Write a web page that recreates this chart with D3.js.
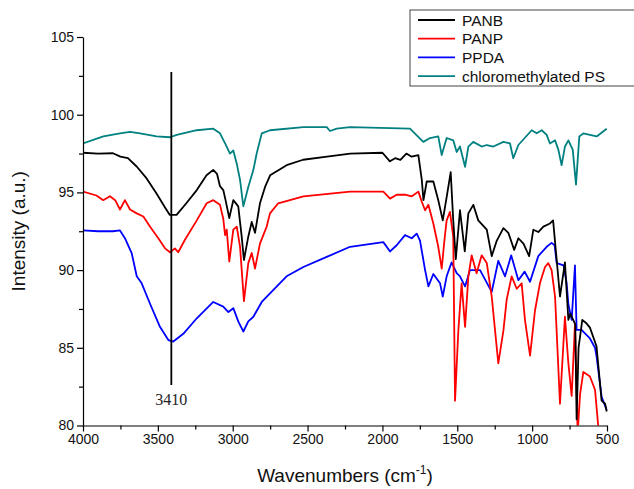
<!DOCTYPE html>
<html>
<head>
<meta charset="utf-8">
<script src="https://cdn.jsdelivr.net/npm/d3@7"></script>
<style>
  body { margin: 0; background: #fff; }
  svg { display: block; font-family: "Liberation Sans", Arial, sans-serif; }
</style>
</head>
<body>
<svg id="chart" width="634" height="489"></svg>
<script>
// series names, colours in legend order
const seriesNames = ["PANB", "PANP", "PPDA", "chloromethylated PS"];

// wavenumber / intensity pairs
const panbWn = [4000, 3900, 3800, 3750, 3700, 3640, 3575, 3510, 3450, 3420, 3375, 3310, 3240, 3175, 3130, 3105, 3085, 3063, 3050, 3023, 2996, 2963, 2940, 2925, 2896, 2873, 2851, 2818, 2784, 2750, 2640, 2530, 2370, 2215, 2000, 1950, 1915, 1880, 1840, 1805, 1760, 1737, 1726, 1704, 1660, 1627, 1597, 1571, 1544, 1527, 1510, 1482, 1450, 1426, 1393, 1360, 1303, 1270, 1236, 1192, 1159, 1120, 1092, 1058, 1020, 992, 959, 925, 881, 860, 814, 781, 758, 745, 712, 703, 690, 665, 640, 614, 570, 536, 513, 502];
const panbVal = [97.55, 97.5, 97.52, 97.3, 97.2, 96.65, 95.9, 94.95, 94.0, 93.55, 93.55, 94.3, 95.15, 96.1, 96.45, 96.2, 95.4, 95.15, 94.6, 93.35, 94.5, 94.1, 92.15, 90.65, 92.15, 93.1, 92.4, 94.3, 95.35, 96.1, 96.75, 97.1, 97.3, 97.5, 97.55, 97.0, 97.2, 97.1, 97.5, 97.3, 97.4, 95.8, 94.5, 95.7, 95.7, 94.5, 93.2, 94.7, 96.3, 93.2, 90.7, 93.85, 91.2, 93.65, 94.2, 93.2, 92.6, 90.9, 91.9, 92.7, 92.4, 91.3, 92.05, 91.7, 90.9, 92.6, 92.45, 92.8, 93.0, 93.2, 88.3, 90.5, 86.8, 87.2, 86.5, 80.4, 85.0, 86.8, 86.6, 86.3, 85.1, 81.6, 81.4, 80.9];

const panpWn = [4000, 3910, 3865, 3820, 3785, 3753, 3720, 3686, 3641, 3597, 3553, 3497, 3452, 3419, 3386, 3364, 3319, 3240, 3174, 3130, 3085, 3063, 3051, 3040, 3023, 2996, 2973, 2951, 2925, 2896, 2873, 2851, 2818, 2773, 2751, 2696, 2528, 2216, 1994, 1949, 1905, 1849, 1804, 1760, 1737, 1715, 1693, 1660, 1627, 1604, 1585, 1571, 1549, 1527, 1515, 1493, 1471, 1448, 1426, 1404, 1371, 1337, 1303, 1270, 1226, 1192, 1170, 1137, 1103, 1070, 1048, 1014, 981, 948, 914, 892, 870, 847, 814, 781, 758, 736, 714, 696, 680, 658, 614, 580, 558, 540];
const panpVal = [95.05, 94.8, 94.5, 94.75, 94.5, 93.9, 94.5, 93.9, 93.65, 93.45, 92.8, 92.05, 91.4, 91.15, 91.4, 91.15, 91.95, 93.2, 94.3, 94.5, 94.2, 93.3, 92.25, 92.6, 90.55, 92.6, 92.8, 91.5, 88.0, 90.45, 91.1, 90.1, 91.7, 92.8, 93.65, 94.3, 94.75, 95.05, 95.05, 94.6, 94.85, 94.85, 94.75, 95.05, 94.4, 93.85, 94.2, 93.0, 91.5, 90.1, 92.0, 93.2, 93.75, 92.15, 81.6, 86.1, 89.15, 86.35, 89.6, 90.95, 89.8, 90.95, 90.45, 88.3, 84.0, 86.1, 88.1, 89.6, 88.8, 89.15, 86.8, 84.5, 87.4, 89.15, 90.2, 90.45, 90.0, 88.3, 81.4, 87.0, 84.0, 81.9, 86.5, 79.5, 82.0, 83.45, 83.15, 82.3, 79.9, 79.0];

const ppdaWn = [4000, 3900, 3800, 3753, 3720, 3675, 3641, 3608, 3553, 3486, 3430, 3397, 3330, 3240, 3130, 3063, 3029, 2996, 2963, 2929, 2896, 2862, 2806, 2751, 2640, 2528, 2372, 2216, 1994, 1949, 1905, 1849, 1804, 1771, 1749, 1715, 1693, 1660, 1615, 1597, 1571, 1538, 1504, 1482, 1448, 1415, 1348, 1270, 1226, 1181, 1140, 1092, 1050, 1014, 959, 903, 870, 850, 836, 790, 770, 758, 736, 714, 703, 670, 614, 580, 569, 536, 502];
const ppdaVal = [92.55, 92.5, 92.5, 92.55, 92.05, 91.1, 89.6, 89.15, 87.85, 86.35, 85.5, 85.4, 85.9, 86.9, 87.95, 87.65, 87.3, 87.55, 86.7, 86.05, 86.7, 87.0, 87.95, 88.5, 89.6, 90.2, 90.85, 91.5, 91.8, 91.2, 91.6, 92.25, 92.05, 92.35, 91.9, 90.0, 88.95, 89.75, 89.15, 88.3, 89.6, 90.5, 89.8, 89.6, 88.95, 90.0, 90.0, 88.6, 90.6, 89.6, 90.95, 89.35, 89.9, 89.25, 90.9, 91.5, 91.75, 91.6, 90.45, 90.3, 89.2, 87.8, 86.8, 90.3, 86.15, 86.15, 85.6, 85.0, 84.4, 81.85, 81.0];

const cmpsWn = [4000, 3864, 3753, 3686, 3619, 3508, 3419, 3374, 3240, 3130, 3085, 3051, 3018, 2996, 2973, 2951, 2929, 2896, 2862, 2840, 2806, 2751, 2528, 2372, 2350, 2305, 2216, 1816, 1727, 1682, 1627, 1604, 1571, 1527, 1504, 1482, 1448, 1426, 1393, 1337, 1303, 1259, 1192, 1148, 1126, 1092, 1003, 970, 936, 903, 881, 847, 825, 803, 781, 758, 729, 707, 685, 658, 614, 569, 502];
const cmpsVal = [98.15, 98.6, 98.8, 98.9, 98.8, 98.6, 98.55, 98.7, 99.0, 99.1, 98.8, 98.15, 97.5, 97.7, 96.85, 95.8, 94.1, 95.35, 96.45, 97.5, 98.8, 99.0, 99.2, 99.2, 98.95, 99.1, 99.2, 99.1, 98.25, 98.5, 98.6, 97.4, 98.5, 98.35, 97.6, 97.95, 96.65, 97.95, 98.25, 97.95, 98.05, 97.95, 98.25, 98.15, 97.2, 98.05, 99.0, 98.8, 99.0, 98.7, 98.15, 98.35, 97.75, 96.75, 97.95, 98.35, 97.75, 95.5, 98.6, 98.8, 98.7, 98.6, 99.1];

// axis ticks
const xMajor = [4000, 3500, 3000, 2500, 2000, 1500, 1000, 500];
const xMinor = [3750, 3250, 2750, 2250, 1750, 1250, 750];
const yMajor = [80, 85, 90, 95, 100, 105];
const yMinor = [82.5, 87.5, 92.5, 97.5, 102.5];

// the marked O-H / N-H band
const markWn = 3410;
const markLabel = "3410";

const colors = ["#000000", "#ff0000", "#0000ff", "#008080"];

const series = [
  panbWn.map((w, i) => ({ w: w, v: panbVal[i] })),
  panpWn.map((w, i) => ({ w: w, v: panpVal[i] })),
  ppdaWn.map((w, i) => ({ w: w, v: ppdaVal[i] })),
  cmpsWn.map((w, i) => ({ w: w, v: cmpsVal[i] })),
];

const margin = { top: 37, right: 27, bottom: 63.5, left: 83 };
const width = 634 - margin.left - margin.right;
const height = 489 - margin.top - margin.bottom;

const svg = d3.select("#chart");
const g = svg.append("g").attr("transform", `translate(${margin.left},${margin.top})`);

const x = d3.scaleLinear().domain([4000, 500]).range([0, width]);
const y = d3.scaleLinear().domain([80, 105]).range([height, 0]);

g.append("clipPath")
  .attr("id", "plot-clip")
  .append("rect")
  .attr("x", 0)
  .attr("y", 0)
  .attr("width", width + 1)
  .attr("height", height);

// spectra (teal drawn first so it sits underneath)
const line = d3.line().x((d) => x(d.w)).y((d) => y(d.v));
[3, 2, 1, 0].forEach((k) => {
  g.append("path")
    .attr("clip-path", "url(#plot-clip)")
    .attr("d", line(series[k]))
    .attr("fill", "none")
    .attr("stroke", colors[k])
    .attr("stroke-width", 1.8)
    .attr("stroke-linejoin", "round");
});

// vertical marker
g.append("line")
  .attr("x1", x(markWn))
  .attr("x2", x(markWn))
  .attr("y1", y(102.75))
  .attr("y2", y(82.6))
  .attr("stroke", "#000")
  .attr("stroke-width", 1.8);

g.append("text")
  .attr("x", x(markWn))
  .attr("y", y(82.6) + 20)
  .attr("text-anchor", "middle")
  .attr("font-family", "'Liberation Serif', 'Times New Roman', serif")
  .attr("font-size", 16)
  .attr("fill", "#222")
  .text(markLabel);

// axes
g.append("g")
  .attr("transform", `translate(0,${height})`)
  .call(d3.axisBottom(x).tickValues(xMajor).tickFormat(d3.format("d")).tickSize(6).tickSizeOuter(0).tickPadding(3));
g.append("g")
  .attr("transform", `translate(0,${height})`)
  .call(d3.axisBottom(x).tickValues(xMinor).tickSize(4).tickFormat(""))
  .select(".domain").remove();

g.append("g")
  .call(d3.axisLeft(y).tickValues(yMajor).tickSize(6).tickSizeOuter(0).tickPadding(3));
g.append("g")
  .call(d3.axisLeft(y).tickValues(yMinor).tickSize(4).tickFormat(""))
  .select(".domain").remove();

g.selectAll(".tick text")
  .attr("font-family", "'Liberation Sans', Arial, sans-serif")
  .attr("font-size", 14)
  .attr("fill", "#111");
g.selectAll(".domain, .tick line").attr("stroke", "#000").attr("stroke-width", 1.2);

// axis titles
svg.append("text")
  .attr("transform", `translate(25,${margin.top + height / 2}) rotate(-90)`)
  .attr("text-anchor", "middle")
  .attr("font-size", 19)
  .attr("fill", "#111")
  .text("Intensity (a.u.)");

const xt = svg.append("text")
  .attr("x", margin.left + width / 2)
  .attr("y", 482)
  .attr("text-anchor", "middle")
  .attr("font-size", 19)
  .attr("fill", "#111");
xt.append("tspan").text("Wavenumbers (cm");
xt.append("tspan").attr("font-size", 12).attr("dy", -8).text("-1");
xt.append("tspan").attr("dy", 8).text(")");

// legend
const legend = svg.append("g").attr("transform", "translate(410,10)");
legend.append("rect")
  .attr("x", 0)
  .attr("y", 0)
  .attr("width", 240)
  .attr("height", 76)
  .attr("fill", "#fff")
  .attr("stroke", "#444")
  .attr("stroke-width", 1);

seriesNames.forEach((name, i) => {
  const row = legend.append("g").attr("transform", `translate(0,${10 + i * 18.7})`);
  row.append("line")
    .attr("x1", 8)
    .attr("x2", 45)
    .attr("y1", 0)
    .attr("y2", 0)
    .attr("stroke", colors[i])
    .attr("stroke-width", 1.8);
  row.append("text")
    .attr("x", 52)
    .attr("y", 5.5)
    .attr("font-size", 15.5)
    .attr("fill", "#111")
    .text(name);
});
</script>
</body>
</html>
